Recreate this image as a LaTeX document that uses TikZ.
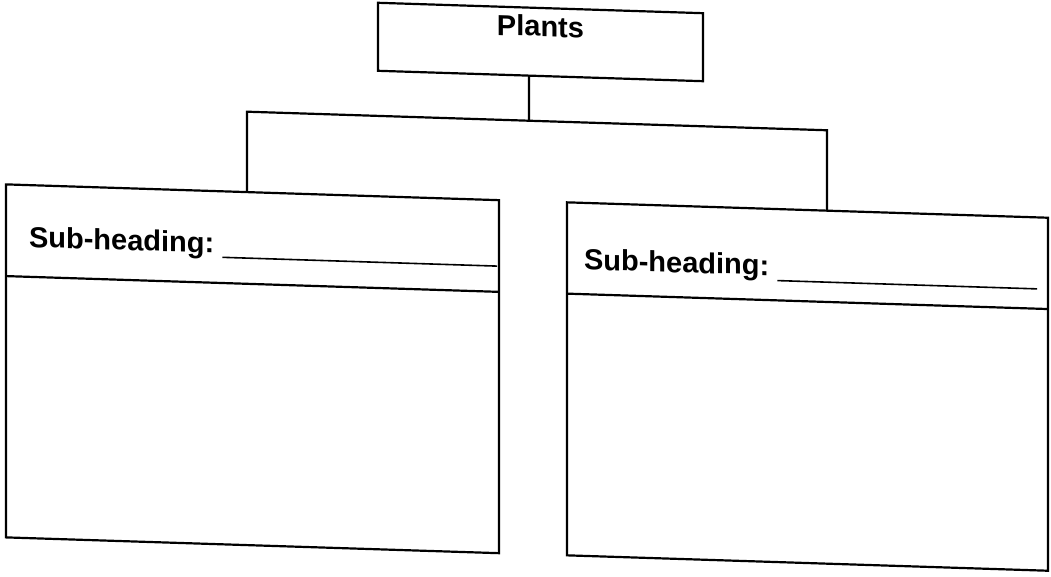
\documentclass[tikz,border=0pt]{standalone}
\usepackage{fontspec}
\setmainfont{Liberation Sans}
\usetikzlibrary{positioning}
\def\mylw{2.2pt}
\def\myskew{-0.032}
\tikzset{
my node/.style={inner sep=0pt,outer sep=0pt,font=\bfseries\fontsize{29}{34}\selectfont},
my box/.style={draw,my node,rectangle,line width=\mylw},
my title/.style={my box,minimum width=325pt,text height=28.5pt,text depth=39.5pt},
my panel/.style={my box,minimum width=493pt,minimum height=353pt},
my head/.style={my node,anchor=base west},
my rule/.style={line width=1.6pt},
}

\begin{document}
\begin{tikzpicture}[x=1pt,y=-1pt,line width=\mylw] % All lines of the scan are heavy
\useasboundingbox (0,0) rectangle (1051,577);
\begin{scope}[transform canvas={yshift=16.8pt,yslant=\myskew}]
\node[my title] (plants) at (540.5,41.5) {Plants};
\node[my panel] (lbox) at (252.5,377.5) {};
\node[my panel,minimum width=481pt,right=68pt of lbox] (rbox) {};

% header rows
\draw ([yshift=-91.7pt]lbox.north west) -- ([yshift=-91.7pt]lbox.north east);
\draw ([yshift=-91.3pt]rbox.north west) -- ([yshift=-91.3pt]rbox.north east);
\node[my head] (lhead) at ([shift={(23,62)}]lbox.north west) {Sub-heading:};
\node[my head] (rhead) at ([shift={(17,66.5)}]rbox.north west) {Sub-heading:};
\draw[my rule] ([xshift=8pt,yshift=-4pt]lhead.base east) -- ([xshift=-2pt,yshift=-4pt]lhead.base east -| lbox.east);
\draw[my rule] ([xshift=8pt,yshift=-5pt]rhead.base east) -- ([xshift=-11pt,yshift=-5pt]rhead.base east -| rbox.east);

% tree connectors
\coordinate (fork) at (529,120.6);
\coordinate (lhook) at (247,0);
\coordinate (rhook) at (827,0);
\draw (plants.south -| fork) -- (fork);
\draw (lbox.north -| lhook) |- (fork) -| (rbox.north -| rhook);
\end{scope}
\end{tikzpicture}
\end{document}
